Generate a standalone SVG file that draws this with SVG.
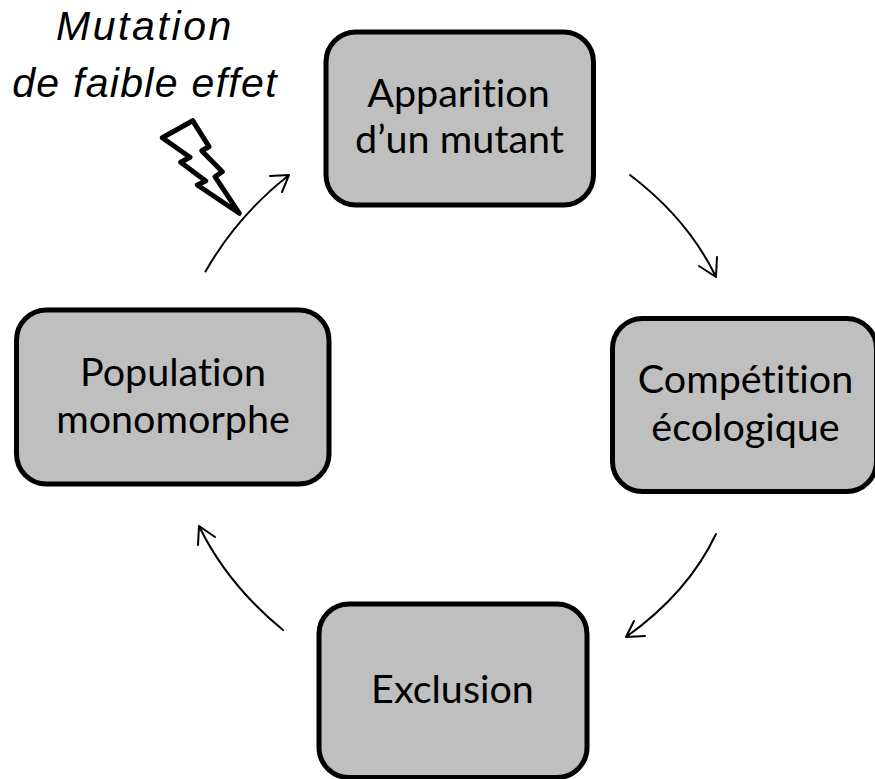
<svg xmlns="http://www.w3.org/2000/svg" width="875" height="779" viewBox="0 0 875 779">
<style>
.box{fill:#bfbfbf;stroke:#000;stroke-width:5}
.t{font-family:"Lato","Open Sans",sans-serif;font-size:39.500px;fill:#000;text-anchor:middle;font-variant-ligatures:none}
.i{font-family:"Liberation Sans",Arial,sans-serif;font-style:italic;font-size:41px}
.c{fill:none;stroke:#000;stroke-width:2;stroke-linecap:round;stroke-linejoin:round}
</style>
<rect width="875" height="779" fill="#fff"/>
<g id="connectors">
<path class="c" d="M205.500 271.500Q237 216 289 175M270 176L289 175L282 192"/>
<path class="c" d="M630 175Q688 219 716 277M699 266L716 277L717 257"/>
<path class="c" d="M716 534Q688 593 626 637M634 621L626 637L645 636"/>
<path class="c" d="M283 630Q227 584 199 526M198 545L199 526L215 537"/>
</g>
<g id="node-apparition"><rect class="box" x="326" y="32" width="267.500" height="173" rx="30"/><text class="t" x="458.500" y="107">Apparition</text><text class="t" x="459.500" y="153">d’un mutant</text></g>
<g id="node-competition"><rect class="box" x="612.500" y="318.500" width="264" height="173" rx="30"/><text class="t" x="745.500" y="393">Compétition</text><text class="t" x="745.500" y="441">écologique</text></g>
<g id="node-exclusion"><rect class="box" x="319" y="604" width="268" height="173.500" rx="30"/><text class="t" x="452.500" y="703">Exclusion</text></g>
<g id="node-population"><rect class="box" x="16.500" y="310" width="312.500" height="174" rx="30"/><text class="t" x="173" y="386">Population</text><text class="t" x="173" y="433">monomorphe</text></g>
<g id="node-mutation"><path d="M192.700 120.700L162.300 137.700L190 157.300L180.700 162.300L205.700 181L197.300 185L239.300 213.300L215 176.700L222.300 171.700L201.700 150.700L209 146.700Z" fill="#fff" stroke="#000" stroke-width="5" stroke-linejoin="round"/><text class="t i" x="145" y="40" letter-spacing="2.600">Mutation</text><text class="t i" x="145" y="97" letter-spacing="1.300">de faible effet</text></g>
</svg>
